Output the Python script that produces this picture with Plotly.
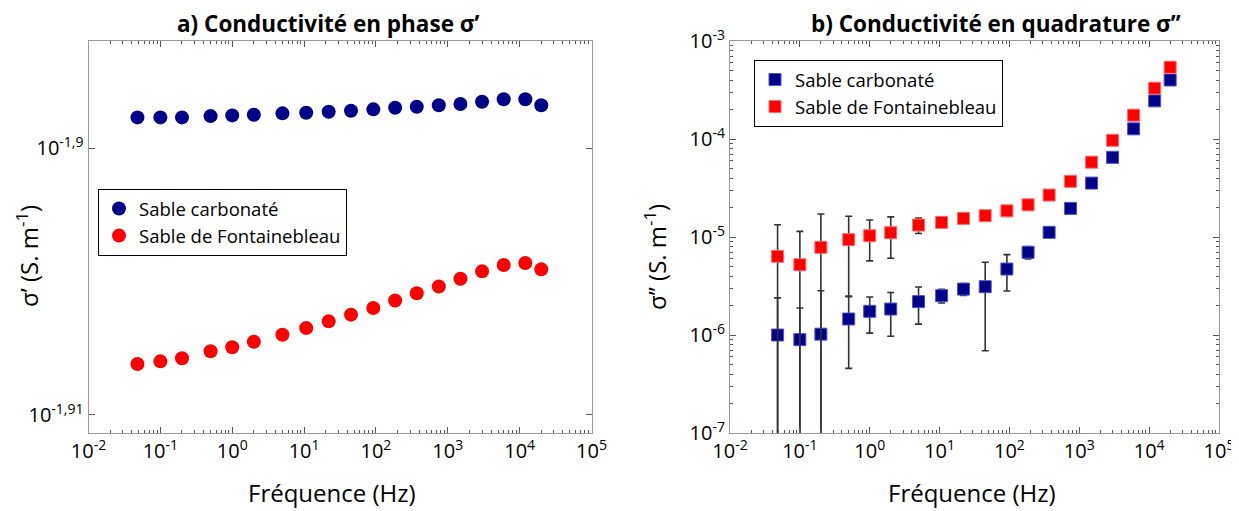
import plotly.graph_objects as go

# ---------------- data ----------------
freq_hz = [0.048, 0.1, 0.2, 0.5, 1, 2, 5, 10.7, 22, 45, 92, 185, 370, 750,
           1500, 3000, 6000, 12000, 20000]

# a) in-phase conductivity sigma' (S/m)
sp_carbonate = [0.01262288, 0.01262288, 0.01262288, 0.01262431, 0.01262507,
                0.01262573, 0.01262726, 0.01262793, 0.01262902, 0.01263012,
                0.01263166, 0.01263341, 0.01263451, 0.01263605, 0.01263747,
                0.01264000, 0.01264263, 0.01264263, 0.01263605]
sp_fontainebleau = [0.01235699, 0.01235978, 0.01236301, 0.01237052, 0.01237484,
                    0.01238064, 0.01238817, 0.01239528, 0.01240250, 0.01240972,
                    0.01241684, 0.01242483, 0.01243271, 0.01243995, 0.01244816,
                    0.01245617, 0.01246300, 0.01246517, 0.01245833]

# b) quadrature conductivity sigma'' (S/m)
spp_carbonate = [1.0e-6, 8.96e-7, 1.02e-6, 1.456e-6, 1.745e-6, 1.84e-6, 2.19e-6,
                 2.52e-6, 2.94e-6, 3.11e-6, 4.71e-6, 6.98e-6, 1.116e-5, 1.96e-5,
                 3.55e-5, 6.5e-5, 1.27e-4, 2.45e-4, 4.0e-4]
spp_carbonate_err = [1.39e-6, 9.9e-7, 1.81e-6, 1.0e-6, 7.0e-7, 8.7e-7, 9.0e-7,
                     4.0e-7, 4.0e-7, 2.42e-6, 1.9e-6, 1.0e-6, 0, 0, 0, 0, 0, 0, 0]
spp_fontainebleau = [6.35e-6, 5.21e-6, 7.85e-6, 9.39e-6, 1.03e-5, 1.106e-5,
                     1.324e-5, 1.41e-5, 1.55e-5, 1.65e-5, 1.85e-5, 2.13e-5,
                     2.68e-5, 3.7e-5, 5.8e-5, 9.7e-5, 1.75e-4, 3.3e-4, 5.4e-4]
spp_fontainebleau_err = [7.0e-6, 6.2e-6, 9.3e-6, 6.9e-6, 4.6e-6, 5.0e-6, 2.4e-6,
                         0, 0, 0, 0, 0, 0, 0, 0, 0, 0, 0, 0]

series_names = ["Sable carbonaté", "Sable de Fontainebleau"]

x_tickvals = [1e-2, 1e-1, 1e0, 1e1, 1e2, 1e3, 1e4, 1e5]
x_ticktext = ["10<sup>-2</sup>", "10<sup>-1</sup>", "10<sup>0</sup>", "10<sup>1</sup>",
              "10<sup>2</sup>", "10<sup>3</sup>", "10<sup>4</sup>", "10<sup>5</sup>"]
ya_tickvals = [0.0123027, 0.0125893]
ya_ticktext = ["10<sup>-1,91</sup>", "10<sup>-1,9</sup>"]
yb_tickvals = [1e-7, 1e-6, 1e-5, 1e-4, 1e-3]
yb_ticktext = ["10<sup>-7</sup>", "10<sup>-6</sup>", "10<sup>-5</sup>",
               "10<sup>-4</sup>", "10<sup>-3</sup>"]

# ---------------- style ----------------
OFF = 8                      # page body margin of the browser
W, H = 1239 - OFF, 511 - OFF
FONT = "Open Sans"
NAVY = "#000088"
RED = "#FF0000"
FRAME = "#9a9a9a"
TICKC = "#555555"
ERRC = "#333333"


def fx(p):
    return (p - OFF) / W


def fy(p):
    return 1 - (p - OFF) / H


def minor_vals(lo, hi):
    return [m * 10.0 ** e for e in range(lo, hi) for m in range(2, 10)]


fig = go.Figure()

# panel a
fig.add_trace(go.Scatter(x=freq_hz, y=sp_carbonate, mode="markers", name=series_names[0],
                         marker=dict(symbol="circle", size=14, color=NAVY),
                         xaxis="x", yaxis="y", legend="legend"))
fig.add_trace(go.Scatter(x=freq_hz, y=sp_fontainebleau, mode="markers", name=series_names[1],
                         marker=dict(symbol="circle", size=14, color=RED),
                         xaxis="x", yaxis="y", legend="legend"))

# panel b
err_style = dict(type="data", symmetric=True, color=ERRC, thickness=1.6, width=3.5)
fig.add_trace(go.Scatter(x=freq_hz, y=spp_carbonate, mode="markers", name=series_names[0],
                         error_y=dict(array=spp_carbonate_err, **err_style),
                         marker=dict(symbol="square", size=12, color=NAVY,
                                     line=dict(color="#5050c8", width=1)),
                         xaxis="x2", yaxis="y2", legend="legend2"))
fig.add_trace(go.Scatter(x=freq_hz, y=spp_fontainebleau, mode="markers", name=series_names[1],
                         error_y=dict(array=spp_fontainebleau_err, **err_style),
                         marker=dict(symbol="square", size=12, color=RED,
                                     line=dict(color="#ff6a6a", width=1)),
                         xaxis="x2", yaxis="y2", legend="legend2"))

tickfont = dict(family=FONT, size=20, color="black")
ydom = [fy(433), fy(41)]


def xaxis(domain, anchor):
    return dict(type="log", domain=domain, range=[-2, 5], anchor=anchor,
                tickmode="array", tickvals=x_tickvals, ticktext=x_ticktext,
                ticks="inside", ticklen=6, tickwidth=1, tickcolor=TICKC,
                showline=True, linecolor=FRAME, linewidth=1, mirror="ticks",
                showgrid=False, zeroline=False, tickfont=tickfont, automargin=False,
                minor=dict(tickmode="array", tickvals=minor_vals(-2, 5), ticks="inside",
                           ticklen=3, tickcolor=TICKC, showgrid=False))


fig.update_layout(
    width=W, height=H, template="none",
    paper_bgcolor="white", plot_bgcolor="white",
    margin=dict(l=0, r=0, t=0, b=0),
    font=dict(family=FONT, color="black"),
    xaxis=xaxis([fx(88.5), fx(591.5)], "y"),
    xaxis2=xaxis([fx(730), fx(1219)], "y2"),
    yaxis=dict(type="log", domain=ydom, range=[-1.910677, -1.895977], anchor="x",
               tickmode="array", tickvals=ya_tickvals, ticktext=ya_ticktext,
               ticks="inside", ticklen=6, tickcolor=TICKC,
               showline=True, linecolor=FRAME, linewidth=1, mirror="ticks",
               showgrid=False, zeroline=False, tickfont=tickfont, automargin=False),
    yaxis2=dict(type="log", domain=ydom, range=[-7, -3], anchor="x2",
                tickmode="array", tickvals=yb_tickvals, ticktext=yb_ticktext,
                ticks="inside", ticklen=6, tickcolor=TICKC,
                showline=True, linecolor=FRAME, linewidth=1, mirror="ticks",
                showgrid=False, zeroline=False, tickfont=tickfont, automargin=False,
                minor=dict(tickmode="array", tickvals=minor_vals(-7, -3), ticks="inside",
                           ticklen=3, tickcolor=TICKC, showgrid=False)),
    legend=dict(x=fx(98), y=fy(189), xanchor="left", yanchor="top",
                bordercolor="black", borderwidth=1, bgcolor="white",
                font=dict(family=FONT, size=18.5), itemwidth=30, tracegroupgap=0),
    legend2=dict(x=fx(754), y=fy(60), xanchor="left", yanchor="top",
                 bordercolor="black", borderwidth=1, bgcolor="white",
                 font=dict(family=FONT, size=18.5), itemwidth=30, tracegroupgap=0),
    showlegend=True,
)

ann = [
    dict(text="<b>a) Conductivité en phase σ’</b>", x=fx(328), y=fy(23), size=22.5, angle=0),
    dict(text="<b>b) Conductivité en quadrature σ’’</b>", x=fx(996), y=fy(23), size=22.5, angle=0),
    dict(text="Fréquence (Hz)", x=fx(332), y=fy(492), size=24, angle=0),
    dict(text="Fréquence (Hz)", x=fx(972), y=fy(492), size=24, angle=0),
    dict(text="σ’ (S. m<sup>-1</sup>)", x=fx(27), y=fy(256), size=24, angle=-90),
    dict(text="σ’’ (S. m<sup>-1</sup>)", x=fx(655), y=fy(257), size=24, angle=-90),
]
for a in ann:
    fig.add_annotation(text=a["text"], x=a["x"], y=a["y"], xref="paper", yref="paper",
                       xanchor="center", yanchor="middle", showarrow=False, borderpad=0,
                       textangle=a["angle"], font=dict(family=FONT, size=a["size"], color="black"))

fig.write_html("out.html")
